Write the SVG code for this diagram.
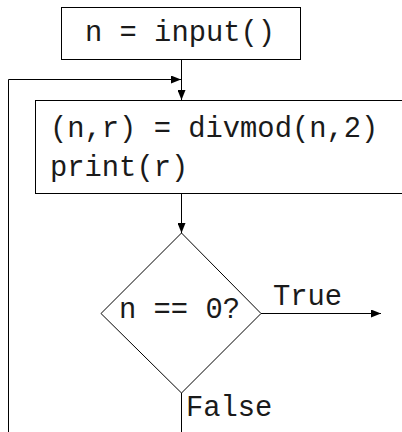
<svg xmlns="http://www.w3.org/2000/svg" width="402" height="432" viewBox="0 0 402 432">
  <style>
    .box { fill: #ffffff; stroke: #000000; stroke-width: 1; }
    .t { font-family: "Liberation Mono", "Courier New", monospace; font-size: 28.8px; fill: #1a1a1a; }
    .c { fill: none; stroke: #000000; stroke-width: 1; }
  </style>
  <defs>
    <marker id="arrow" viewBox="0 0 10 8" refX="10" refY="4" markerWidth="10" markerHeight="8" markerUnits="userSpaceOnUse" orient="auto">
      <path d="M0,0 L10,4 L0,8 Z" fill="#000000"/>
    </marker>
  </defs>
  <rect width="402" height="432" fill="#ffffff"/>
  <g id="connectors">
    <line class="c" x1="181.5" y1="60" x2="181.5" y2="100" marker-end="url(#arrow)"/>
    <polyline class="c" points="8.5,432 8.5,79.5 181,79.5" marker-end="url(#arrow)"/>
    <line class="c" x1="181.5" y1="193" x2="181.5" y2="233" marker-end="url(#arrow)"/>
    <line class="c" x1="261" y1="313.5" x2="381" y2="313.5" marker-end="url(#arrow)"/>
    <line class="c" x1="181.5" y1="393" x2="181.5" y2="432"/>
  </g>
  <g id="input">
    <rect class="box" x="61.5" y="7.5" width="239" height="52"/>
    <text class="t" x="85" y="41">n = input()</text>
  </g>
  <g id="divmod">
    <rect class="box" x="35.5" y="100.5" width="380" height="93"/>
    <text class="t" x="50" y="137">(n,r) = divmod(n,2)</text>
    <text class="t" x="50" y="176">print(r)</text>
  </g>
  <g id="decision">
    <polygon class="box" points="181.5,233 261,313.5 181.5,393 101,313.5"/>
    <text class="t" x="119" y="318">n == 0?</text>
  </g>
  <g id="labels">
    <text class="t" x="273" y="305">True</text>
    <text class="t" x="186" y="416">False</text>
  </g>
</svg>
